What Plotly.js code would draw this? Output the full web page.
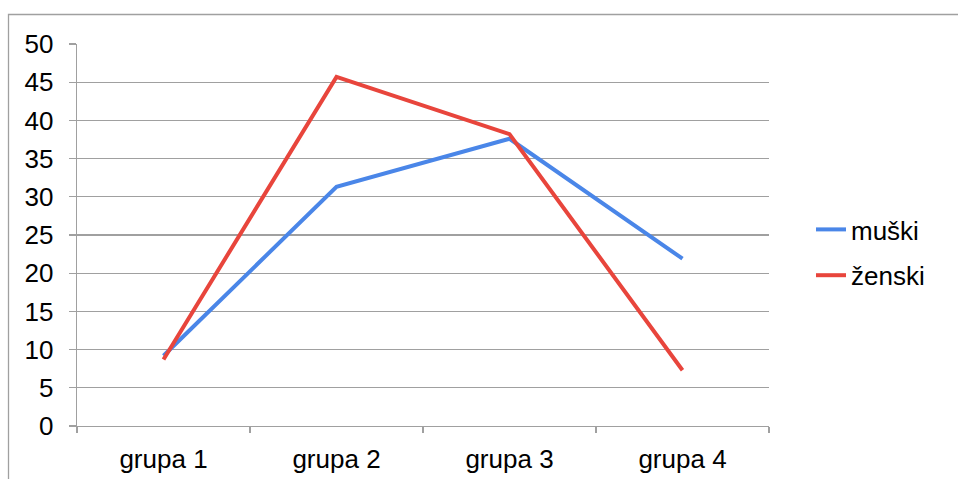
<!DOCTYPE html>
<html><head><meta charset="utf-8">
<script src="https://cdn.plot.ly/plotly-3.0.1.min.js"></script>
<style>html,body{margin:0;padding:0;background:#fff;}#chart{width:958px;height:479px;}</style>
</head><body><div id="chart"></div>
<script>
const categories = ['grupa 1', 'grupa 2', 'grupa 3', 'grupa 4'];
const muski = [9.2, 31.3, 37.6, 21.9];
const zenski = [8.7, 45.7, 38.2, 7.3];
const seriesNames = ['muški', 'ženski'];
const yTicks = [0, 5, 10, 15, 20, 25, 30, 35, 40, 45, 50];

const font = {family: 'Liberation Sans, Arial, sans-serif', size: 26, color: '#000'};
const traces = [
  {x: categories, y: muski, name: seriesNames[0], type: 'scatter', mode: 'lines', legendgroup: 'a',
   line: {color: '#4A86E8', width: 4}},
  {x: categories, y: zenski, name: seriesNames[1], type: 'scatter', mode: 'lines', legendgroup: 'b',
   line: {color: '#E8453C', width: 4}}
];
const W = 958, H = 479, L = 77, R = 189, T = 44, B = 53;
const pw = W - L - R, ph = H - T - B;
const px = v => (v - L) / pw;
const py = v => 1 - (v - T) / ph;
const layout = {
  width: W, height: H,
  margin: {l: L, r: R, t: T, b: B, pad: 0},
  paper_bgcolor: '#fff', plot_bgcolor: '#fff',
  font: font,
  showlegend: true,
  legend: {x: px(811), y: py(206), xanchor: 'left', yanchor: 'top', font: font,
    traceorder: 'grouped', tracegroupgap: 9, bgcolor: 'rgba(0,0,0,0)'},
  xaxis: {type: 'category', range: [-0.5, 3.5], showgrid: false, showline: true,
    linecolor: '#A0A0A0', linewidth: 1.3, ticks: 'outside', tickson: 'boundaries',
    ticklen: 6, tickcolor: '#A0A0A0', tickwidth: 1.3, tickfont: font, ticklabelstandoff: 9,
    zeroline: false, fixedrange: true},
  yaxis: {range: [0, 50], tickvals: yTicks, showgrid: true, gridcolor: '#A0A0A0', gridwidth: 1.3,
    showline: true, linecolor: '#A0A0A0', linewidth: 1.3, ticks: 'outside', ticklen: 7,
    tickcolor: '#A0A0A0', tickwidth: 1.3, tickfont: font, ticklabelstandoff: 10,
    zeroline: false, fixedrange: true},
  shapes: [{type: 'rect', xref: 'paper', yref: 'paper', x0: px(8.5), x1: px(970),
    y0: py(490), y1: py(14.5), line: {color: '#A0A0A0', width: 1.3}, fillcolor: 'rgba(0,0,0,0)', layer: 'below'}]
};
Plotly.newPlot('chart', traces, layout, {displayModeBar: false, staticPlot: true});
</script></body></html>
